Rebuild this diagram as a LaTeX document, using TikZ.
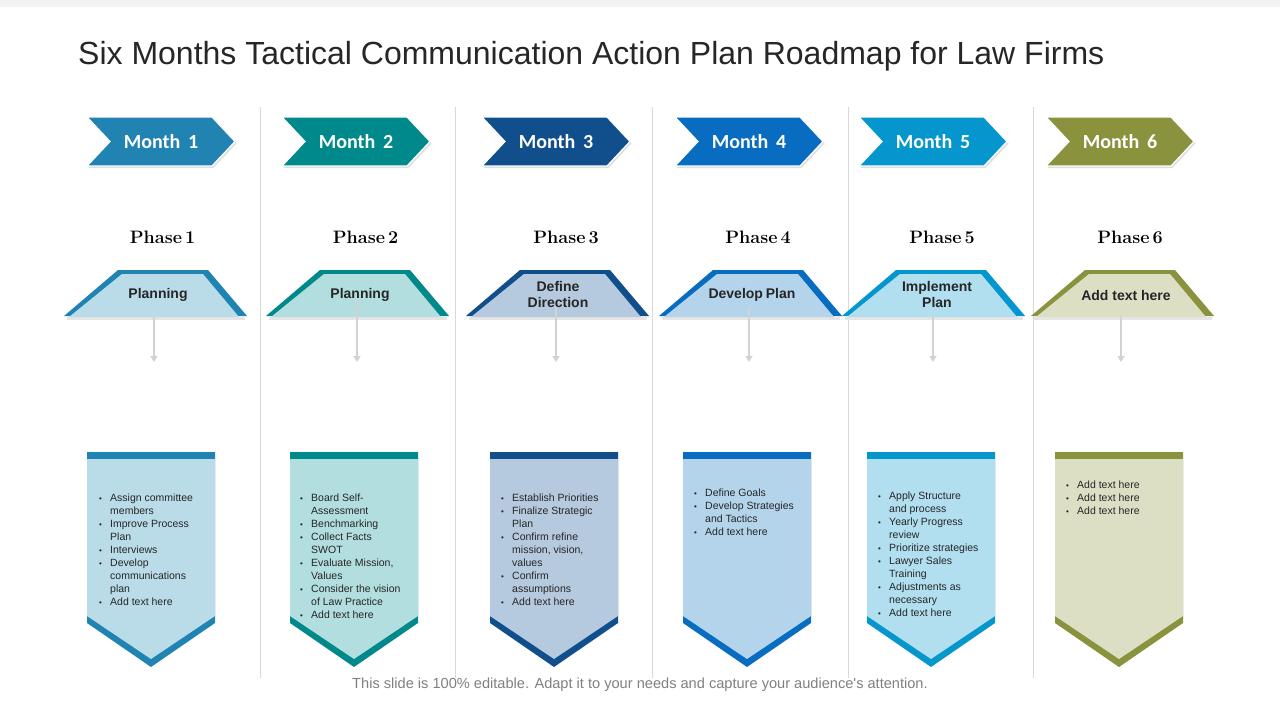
\documentclass[tikz,border=0pt]{standalone}
\usepackage{fontspec}
\usetikzlibrary{arrows.meta}
\newfontfamily\arialf{Liberation Sans}
\newfontfamily\calibrif{Carlito}
\definecolor{dA}{RGB}{33,131,178}
\definecolor{dB}{RGB}{0,137,138}
\definecolor{dC}{RGB}{17,78,140}
\definecolor{dD}{RGB}{8,108,192}
\definecolor{dE}{RGB}{4,150,204}
\definecolor{dF}{RGB}{139,146,62}
\definecolor{lA}{RGB}{186,220,232}
\definecolor{lB}{RGB}{178,222,223}
\definecolor{lC}{RGB}{181,201,223}
\definecolor{lD}{RGB}{180,212,236}
\definecolor{lE}{RGB}{177,223,240}
\definecolor{lF}{RGB}{221,223,197}
\definecolor{txt}{RGB}{38,38,38}
\definecolor{sep}{RGB}{217,217,217}
\definecolor{conn}{RGB}{210,210,210}
\newcommand{\blist}[1]{{\arialf\fontsize{10.5}{13}\selectfont\color{txt}\begin{tabular}[t]{@{}p{6pt}@{\hspace{5pt}}l@{}}#1\end{tabular}}}
\newcommand{\bu}{{\fontsize{8}{8}\selectfont\textbullet}}
\begin{document}
\begin{tikzpicture}[x=1pt,y=-1pt,
  monthtxt/.style={text=white,font=\calibrif\bfseries\fontsize{20}{22}\selectfont,inner sep=0pt},
  phasetxt/.style={text=black,font=\bfseries\fontsize{18}{20}\selectfont,inner sep=0pt,anchor=base},
  traptxt/.style={text=txt,font=\arialf\bfseries\fontsize{14}{16}\selectfont,align=center,inner sep=0pt},
  listnode/.style={anchor=base west,inner sep=0pt},
  connector/.style={draw=conn,line width=1.6pt,-{Triangle[width=7pt,length=6pt]}},
  seprule/.style={draw=sep,line width=0.9pt}]
\useasboundingbox (0,0) rectangle (1280,720);
\fill[white] (0,0) rectangle (1280,720);
\fill[black!5] (0,0) rectangle (1280,7);
% title
\node[anchor=base west,inner sep=0pt,text=txt,font=\arialf\fontsize{32}{35}\selectfont] (title) at (78,64) {Six Months Tactical Communication Action Plan Roadmap for Law Firms};
% separators
\foreach \sx in {260,455,652,848,1033}{\draw[seprule] (\sx,107) -- (\sx,678);}
% chevrons, trapezoids, banners
\foreach \mx/\tc/\bl/\dc/\lc in {87/155/87/dA/lA,282/357/290/dB/lB,482/557/490/dC/lC,675/750/683/dD/lD,859/933/867/dE/lE,1046/1122/1055/dF/lF}{
  \fill[black!12] (\mx+1.5,119) -- (\mx+126.5,119) -- (\mx+149.5,143.5) -- (\mx+126.5,168) -- (\mx+1.5,168) -- (\mx+24.5,143.5) -- cycle;
  \filldraw[fill=\dc,draw=white,line width=1.2pt] (\mx,117) -- (\mx+125,117) -- (\mx+148,141.5) -- (\mx+125,166) -- (\mx,166) -- (\mx+23,141.5) -- cycle;
  \fill[black!10] (\tc-88,317) rectangle (\tc+90,319.5);
  \fill[\dc] (\tc-37,270) -- (\tc+53,270) -- (\tc+92,316) -- (\tc-91,316) -- cycle;
  \fill[\lc] (\tc-33,274) -- (\tc+48,274) -- (\tc+84,317) -- (\tc-86,317) -- cycle;
  \fill[\dc] (\bl,452) -- (\bl+128,452) -- (\bl+128,623) -- (\bl+64,667) -- (\bl,623) -- cycle;
  \fill[\lc] (\bl,459) -- (\bl+128,459) -- (\bl+128,616) -- (\bl+64,659) -- (\bl,616) -- cycle;
}
% month labels
\node[monthtxt] (m1) at (161,141.5) {Month\, 1};
\node[monthtxt] (m2) at (356,141.5) {Month\, 2};
\node[monthtxt] (m3) at (556,141.5) {Month\, 3};
\node[monthtxt] (m4) at (749,141.5) {Month\, 4};
\node[monthtxt] (m5) at (933,141.5) {Month\, 5};
\node[monthtxt] (m6) at (1120,141.5) {Month\, 6};
% phase labels
\node[phasetxt] (p1) at (162.5,243) {Phase\hspace{3pt}1};
\node[phasetxt] (p2) at (365.5,243) {Phase\hspace{3pt}2};
\node[phasetxt] (p3) at (566,243) {Phase\hspace{3pt}3};
\node[phasetxt] (p4) at (758,243) {Phase\hspace{3pt}4};
\node[phasetxt] (p5) at (942,243) {Phase\hspace{3pt}5};
\node[phasetxt] (p6) at (1130,243) {Phase\hspace{3pt}6};
% connectors
\coordinate (s1) at (154,316); \coordinate (e1) at (154,362);
\coordinate (s2) at (357,297); \coordinate (e2) at (357,362);
\coordinate (s3) at (556,307); \coordinate (e3) at (556,362);
\coordinate (s4) at (749,307); \coordinate (e4) at (749,362);
\coordinate (s5) at (933,316); \coordinate (e5) at (933,362);
\coordinate (s6) at (1121,316); \coordinate (e6) at (1121,362);
\foreach \k in {1,...,6}{\draw[connector] (s\k) -- (e\k);}
% trapezoid labels
\node[traptxt] (t1) at (158,295) {Planning};
\node[traptxt] (t2) at (360,295) {Planning};
\node[traptxt] (t3) at (558,294.5) {Define\\Direction};
\node[traptxt] (t4) at (752,295) {Develop\hspace{-1pt} Plan};
\node[traptxt] (t5) at (937,294.5) {Implement\\Plan};
\node[traptxt] (t6) at (1126,295) {Add text here};
% lists
\node[listnode] (b1) at (99,501) {\blist{\bu & Assign committee\\ & members\\ \bu & Improve Process\\ & Plan\\ \bu & Interviews\\ \bu & Develop\\ & communications\\ & plan\\ \bu & Add text here}};
\node[listnode] (b2) at (300,501) {\blist{\bu & Board Self-\\ & Assessment\\ \bu & Benchmarking\\ \bu & Collect Facts\\ & SWOT\\ \bu & Evaluate Mission,\\ & Values\\ \bu & Consider the vision\\ & of Law Practice\\ \bu & Add text here}};
\node[listnode] (b3) at (501,501) {\blist{\bu & Establish Priorities\\ \bu & Finalize Strategic\\ & Plan\\ \bu & Confirm refine\\ & mission, vision,\\ & values\\ \bu & Confirm\\ & assumptions\\ \bu & Add text here}};
\node[listnode] (b4) at (694,496) {\blist{\bu & Define Goals\\ \bu & Develop Strategies\\ & and Tactics\\ \bu & Add text here}};
\node[listnode] (b5) at (878,499) {\blist{\bu & Apply Structure\\ & and process\\ \bu & Yearly Progress\\ & review\\ \bu & Prioritize strategies\\ \bu & Lawyer Sales\\ & Training\\ \bu & Adjustments as\\ & necessary\\ \bu & Add text here}};
\node[listnode] (b6) at (1066,488) {\blist{\bu & Add text here\\ \bu & Add text here\\ \bu & Add text here}};
% footer
\node[inner sep=0pt,text=black!50,font=\arialf\fontsize{14.6}{17}\selectfont] (foot) at (640,685) {This slide is 100\% editable. Adapt it to your needs and capture your audience's attention.};
\end{tikzpicture}
\end{document}
